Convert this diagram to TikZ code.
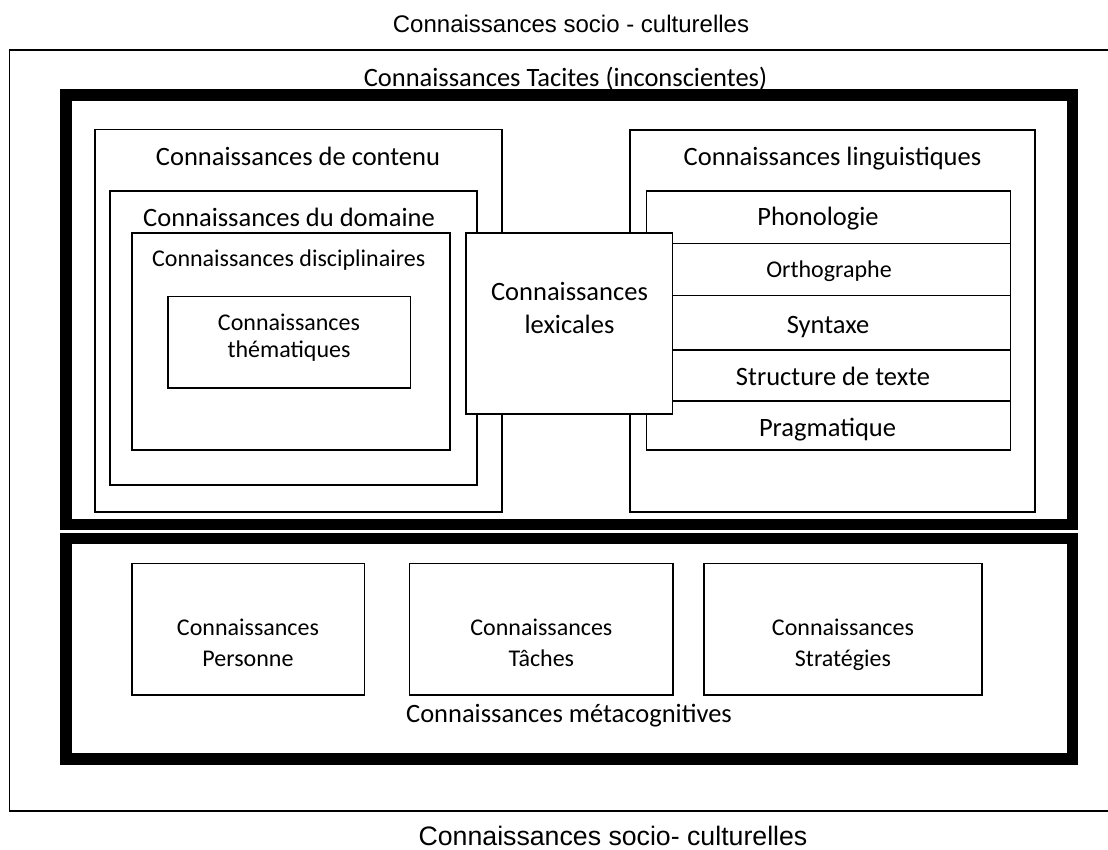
\documentclass[tikz,border=0pt]{standalone}
\usepackage{fontspec}
\setmainfont{Carlito}
\newfontfamily\arialfont{Liberation Sans}
\begin{document}
\begin{tikzpicture}[x=1pt,y=-1pt,
  sbox/.style={draw=black,line width=1.7pt},
  tbox/.style={draw=black,line width=11.5pt},
  lbl/.style={font=\fontsize{26.5}{32}\selectfont,inner sep=0pt,anchor=base},
  lblsmall/.style={font=\fontsize{24}{29}\selectfont,inner sep=0pt,anchor=base},
  arialtop/.style={font=\arialfont\fontsize{24}{29}\selectfont,inner sep=0pt,anchor=base},
  arialbot/.style={font=\arialfont\fontsize{26.7}{32}\selectfont,inner sep=0pt,anchor=base}]
\useasboundingbox (0,0) rectangle (1108,850);
% outer socio-cultural frame (right side beyond the page)
\draw[sbox] (9.5,50) rectangle (1140,811);
% thick frames
\draw[tbox] (66,95) rectangle (1072.5,524.5);
\draw[tbox] (66,538.5) rectangle (1072.5,758.8);
% contenu side
\draw[sbox] (95,129.5) rectangle (502,512);
\draw[sbox] (110,191) rectangle (477,485);
\draw[sbox] (132,233) rectangle (450,450);
\draw[sbox] (168,296.5) rectangle (410.5,388);
% linguistique side
\draw[sbox] (630,130) rectangle (1035,512);
\draw[sbox] (646.5,191) rectangle (1010.5,450);
\foreach \yy in {243.5,295.5,350,401} \draw[sbox] (646.5,\yy) -- (1010.5,\yy);
% lexical box on top
\draw[sbox,fill=white] (466,233) rectangle (672.5,414);
% metacognitive boxes
\draw[sbox] (132,563.5) rectangle (364.5,695);
\draw[sbox] (409.5,563.5) rectangle (673,695);
\draw[sbox] (704,563.5) rectangle (982,695);
% texts
\node[arialtop] (soctop) at (571,33) {Connaissances socio - culturelles};
\node[arialbot] (socbot) at (613,845.5) {Connaissances socio- culturelles};
\node[lbl] (tacit) at (565.5,86.5) {Connaissances Tacites (inconscientes)};
\node[lbl] (cont) at (298,165.7) {Connaissances de contenu};
\node[lbl] (dom) at (289,226.7) {Connaissances du domaine};
\node[lblsmall] (disc) at (288.7,266.7) {Connaissances disciplinaires};
\node[lblsmall] (them1) at (289,330.7) {Connaissances};
\node[lblsmall] (them2) at (289,357.7) {thématiques};
\node[lbl] (lex1) at (569.5,301) {Connaissances};
\node[lbl] (lex2) at (569.5,333.3) {lexicales};
\node[lbl] (ling) at (832.5,165.7) {Connaissances linguistiques};
\node[lbl] (phon) at (818,226) {Phonologie};
\node[lblsmall] (orth) at (829,277) {Orthographe};
\node[lbl] (synt) at (828,333.3) {Syntaxe};
\node[lbl] (struc) at (833,385.7) {Structure de texte};
\node[lbl] (prag) at (827.5,436) {Pragmatique};
\node[lblsmall] (pers1) at (248,635.7) {Connaissances};
\node[lblsmall] (pers2) at (248,666) {Personne};
\node[lblsmall] (tach1) at (541.4,635.7) {Connaissances};
\node[lblsmall] (tach2) at (541.4,666) {Tâches};
\node[lblsmall] (strat1) at (843,635.7) {Connaissances};
\node[lblsmall] (strat2) at (843,666) {Stratégies};
\node[lbl] (meta) at (569,722.3) {Connaissances métacognitives};
\end{tikzpicture}
\end{document}
